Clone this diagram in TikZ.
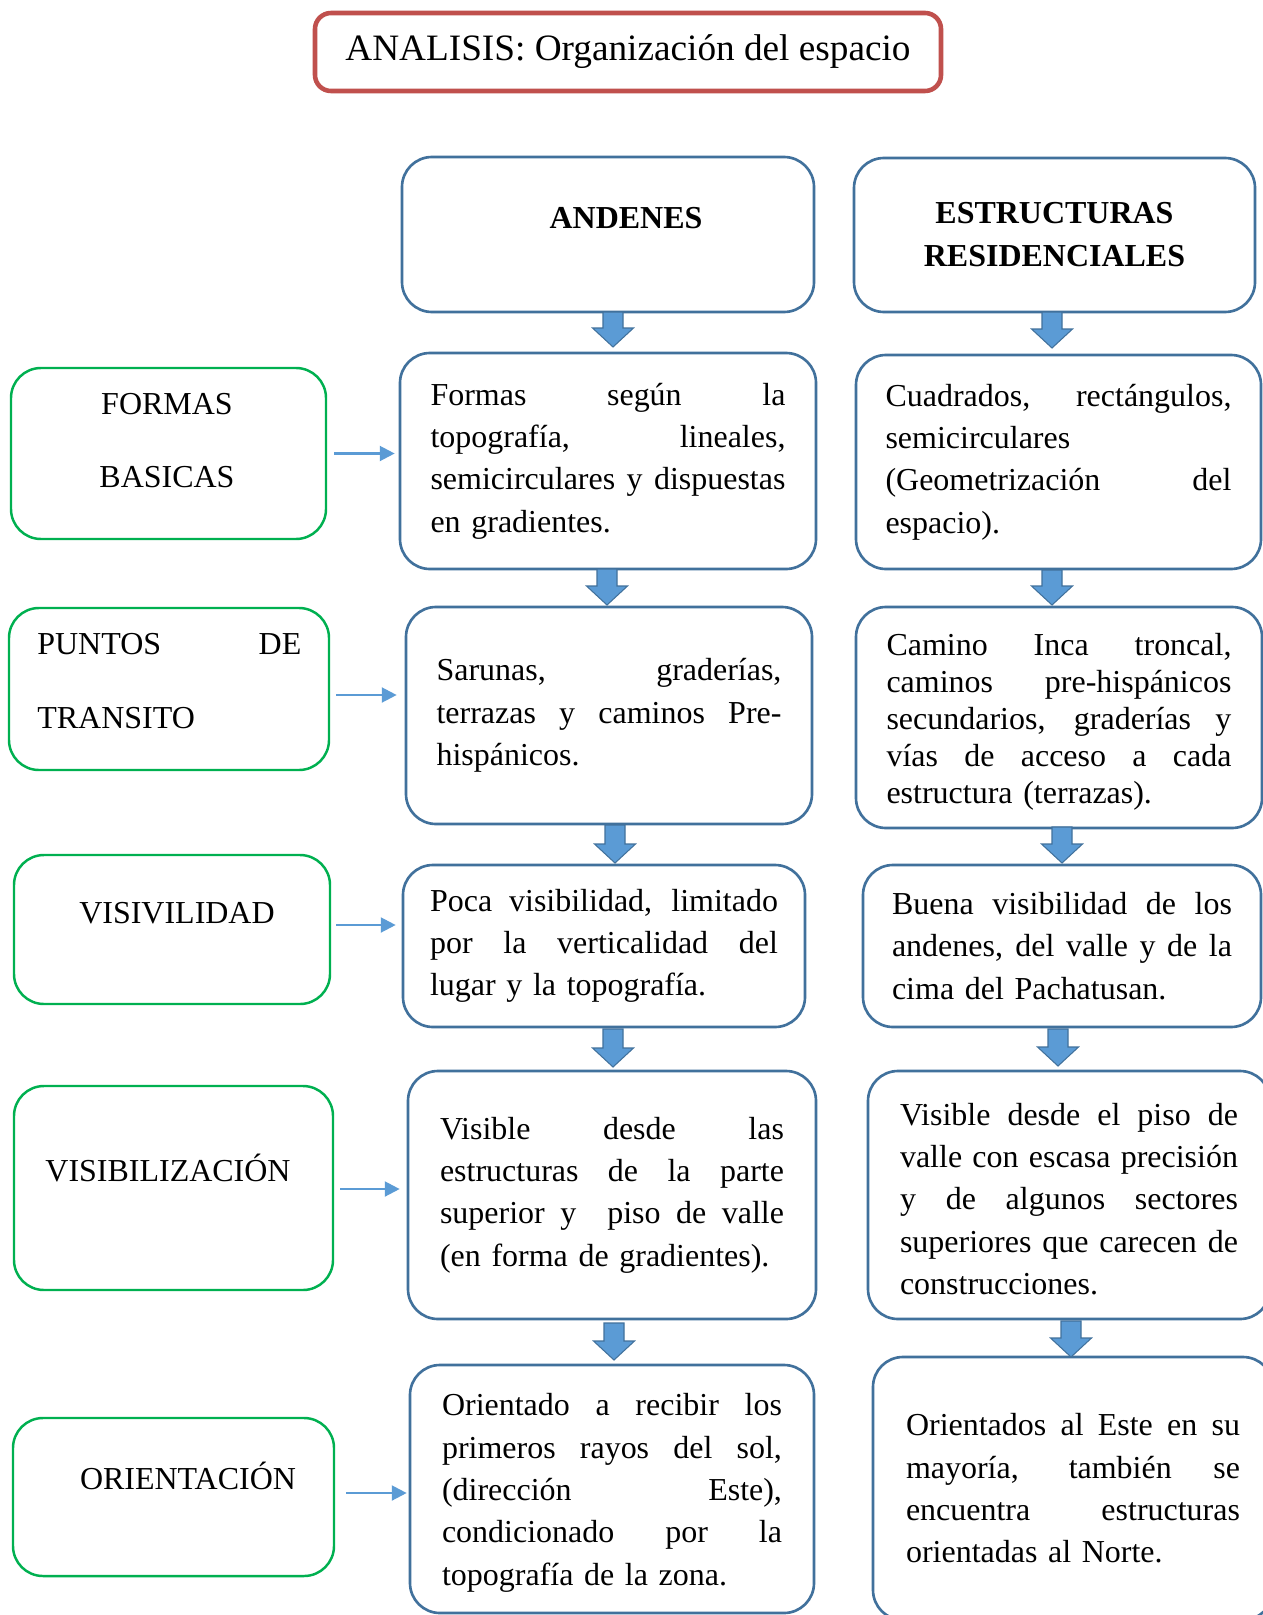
\documentclass[tikz,border=0pt]{standalone}
\usepackage{fontspec}
\setmainfont{Liberation Serif}
\usetikzlibrary{arrows.meta,calc}
\definecolor{bborder}{HTML}{41719C}
\definecolor{bfill}{HTML}{5B9BD5}
\definecolor{gborder}{HTML}{00B050}
\definecolor{rborder}{HTML}{C0504D}
\def\curw{7cm}
\newcommand\jl[1]{\makebox[\curw][s]{\spaceskip=0pt\xspaceskip=0pt #1}}
\newcommand\fsz{\fontsize{18.2}{24.07}\selectfont}
\newcommand\fszb{\fontsize{18.2}{21.05}\selectfont}
\newcommand\mkbox[7]{%
 \pgfmathsetmacro\bxcx{(#3+#5)/2}\pgfmathsetmacro\bxcy{(#4+#6)/2}%
 \pgfmathsetmacro\bxw{(#5-#3)*0.02}\pgfmathsetmacro\bxh{(#6-#4)*0.02}%
 \node[#1, minimum width=\bxw cm, minimum height=\bxh cm] (#2) at (\bxcx,\bxcy) {#7};}
\newcommand\blkarr[3]{\path[blk] ({#1-10},#2) -- ({#1+10},#2) -- ({#1+10},{#3-19}) -- ({#1+20.5},{#3-19}) -- (#1,#3) -- ({#1-20.5},{#3-19}) -- ({#1-10},{#3-19}) -- cycle;}
\begin{document}
\begin{tikzpicture}[x=0.02cm,y=-0.02cm,
 bluebox/.style={draw=bborder, line width=1.5pt, rounded corners=0.6cm, inner sep=0pt, align=left, font=\fsz},
 txtbox/.style={bluebox, text width=\curw},
 greenbox/.style={draw=gborder, line width=1.4pt, rounded corners=0.6cm, inner sep=0pt},
 titlebox/.style={draw=rborder, line width=2.6pt, rounded corners=0.32cm, inner sep=0pt, font=\fontsize{21.2}{25}\selectfont},
 lbl/.style={inner sep=0pt, font=\fsz, text height=12pt, text depth=0pt},
 harrow/.style={draw=bfill, line width=1.3pt, -{Triangle[length=8.5pt,width=8.5pt]}},
 blk/.style={fill=bfill, draw=bborder, line width=0.6pt},
]
\useasboundingbox[fill=white] (0,0) rectangle (1263,1615);

% title
\mkbox{titlebox}{title}{315}{13}{941}{91}{ANALISIS: Organización del espacio}

% headers
\mkbox{bluebox}{a1}{402}{157}{814}{312}{}
\node[lbl, font=\fsz\bfseries] (a1t) at (626,218) {ANDENES};
\mkbox{bluebox, align=center, font=\fontsize{18.2}{24.5}\selectfont\bfseries}{b1}{854}{158}{1255}{312}{ESTRUCTURAS\\RESIDENCIALES}

% ANDENES column
\def\curw{7.10cm}
\mkbox{txtbox}{a2}{400}{353}{816}{569}{\jl{Formas según la}\\
\jl{topografía, lineales,}\\
\jl{semicirculares y dispuestas}\\
en gradientes.}
\def\curw{6.90cm}
\mkbox{txtbox}{a3}{406}{607}{812}{824}{\jl{Sarunas, graderías,}\\
\jl{terrazas y caminos Pre-}\\
hispánicos.}
\def\curw{6.96cm}
\mkbox{txtbox}{a4}{403}{865}{805}{1027}{\jl{Poca visibilidad, limitado}\\
\jl{por la verticalidad del}\\
lugar y la topografía.}
\def\curw{6.88cm}
\mkbox{txtbox}{a5}{408}{1071}{816}{1319}{\jl{Visible desde las}\\
\jl{estructuras de la parte}\\
\jl{superior y\ \ piso de valle}\\
(en forma de gradientes).}
\def\curw{6.80cm}
\mkbox{txtbox}{a6}{410}{1365}{814}{1613}{\jl{\rule{0pt}{17pt}Orientado a recibir los}\\
\jl{primeros rayos del sol,}\\
\jl{(dirección Este),}\\
\jl{condicionado por la}\\
topografía de la zona.}

% ESTRUCTURAS column
\def\curw{6.92cm}
\mkbox{txtbox}{b2}{856}{355}{1261}{569}{\jl{Cuadrados, rectángulos,}\\
semicirculares\\
\jl{(Geometrización del}\\
espacio).}
\def\curw{6.90cm}
\mkbox{txtbox, font=\fszb}{b3}{856}{607}{1262}{828}{\jl{\rule{0pt}{18pt}Camino Inca troncal,}\\
\jl{caminos pre-hispánicos}\\
\jl{secundarios, graderías y}\\
\jl{vías de acceso a cada}\\
estructura (terrazas).}
\def\curw{6.80cm}
\mkbox{txtbox}{b4}{863}{865}{1261}{1027}{\jl{Buena visibilidad de los}\\
\jl{andenes, del valle y de la}\\
cima del Pachatusan.}
\def\curw{6.76cm}
\mkbox{txtbox}{b5}{868}{1071}{1270}{1319}{\jl{\rule{0pt}{17pt}Visible desde el piso de}\\
\jl{valle con escasa precisión}\\
\jl{y de algunos sectores}\\
\jl{superiores que carecen de}\\
construcciones.}
\def\curw{6.68cm}
\mkbox{txtbox}{b6}{873}{1357}{1273}{1620}{\jl{Orientados al Este en su}\\
\jl{mayoría, también se}\\
\jl{encuentra estructuras}\\
orientadas al Norte.}

% green column
\mkbox{greenbox}{g1}{11}{368}{326}{539}{}
\node[lbl] (g1a) at (167,404) {FORMAS};
\node[lbl] (g1b) at (167,477) {BASICAS};
\mkbox{greenbox}{g2}{9}{608}{329}{770}{}
\node[lbl, anchor=west] (g2a) at (37,644) {\makebox[5.28cm][s]{PUNTOS DE}};
\node[lbl, anchor=west] (g2b) at (37,718) {TRANSITO};
\mkbox{greenbox}{g3}{14}{855}{330}{1004}{}
\node[lbl] (g3a) at (177,913) {VISIVILIDAD};
\mkbox{greenbox}{g4}{14}{1086}{333}{1290}{}
\node[lbl] (g4a) at (168,1171) {VISIBILIZACIÓN};
\mkbox{greenbox}{g5}{13}{1418}{334}{1576}{}
\node[lbl] (g5a) at (188,1479) {ORIENTACIÓN};

% horizontal arrows
\draw[harrow] ($(g1.east)+(7,0)$) -- ($(g1.east -| a2.west)+(-4,0)$);
\draw[harrow] ($(g2.east)+(6,6)$) -- ($(g2.east -| a3.west)+(-8,6)$);
\draw[harrow] ($(g3.east)+(5,-4.5)$) -- ($(g3.east -| a4.west)+(-6,-4.5)$);
\draw[harrow] ($(g4.east)+(6,1)$) -- ($(g4.east -| a5.west)+(-7,1)$);
\draw[harrow] ($(g5.east)+(11,-4)$) -- ($(g5.east -| a6.west)+(-2,-4)$);

% block arrows
\blkarr{613}{312}{347}
\blkarr{1052}{312}{348}
\blkarr{607}{569}{605}
\blkarr{1052}{570}{605}
\blkarr{615}{825}{863}
\blkarr{1062}{827}{863}
\blkarr{613}{1029}{1067}
\blkarr{1058}{1029}{1066}
\blkarr{614}{1323}{1360}
\blkarr{1071}{1321}{1357}
\end{tikzpicture}
\end{document}
